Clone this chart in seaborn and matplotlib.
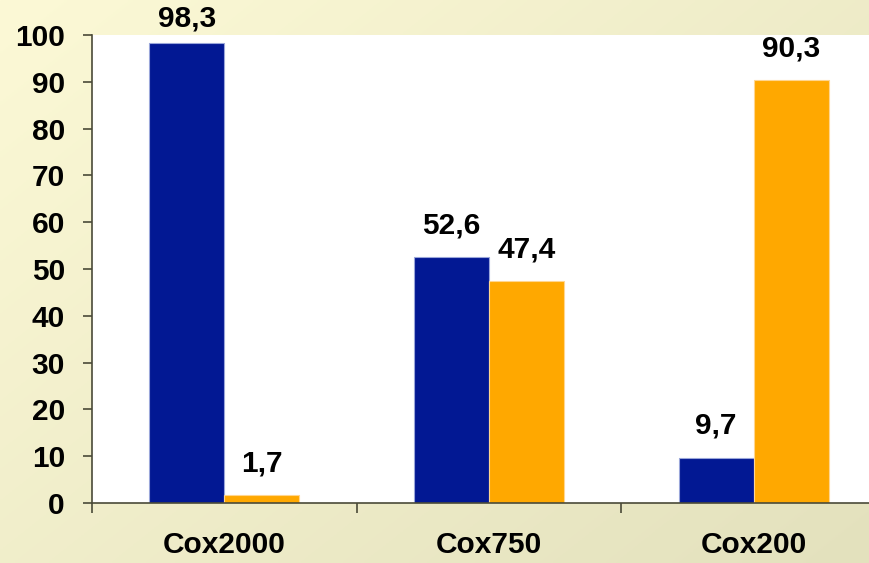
import numpy as np
import pandas as pd
import matplotlib
matplotlib.use("Agg")
import matplotlib.pyplot as plt
import matplotlib.colors as mcolors
import seaborn as sns

# Data
categories = ["Cox2000", "Cox750", "Cox200"]
series_names = ["A", "B"]
series_a = [98.3, 52.6, 9.7]
series_b = [1.7, 47.4, 90.3]
yticks = list(range(0, 101, 10))

df = pd.DataFrame({
    "cat": categories * 2,
    "series": [series_names[0]] * 3 + [series_names[1]] * 3,
    "value": series_a + series_b,
})

sns.set_theme(style="white")
plt.rcParams["font.family"] = ["Liberation Sans", "DejaVu Sans"]
plt.rcParams["font.weight"] = "bold"

FS = 21.5
W, H = 870, 563
fig = plt.figure(figsize=(W / 100, H / 100), dpi=100)

# Soft diagonal gradient backdrop
bg = fig.add_axes([0, 0, 1, 1], zorder=-10)
yy, xx = np.mgrid[0:1:200j, 0:1:300j]
t = (xx * 0.55 + yy * 0.45)
c0 = np.array(mcolors.to_rgb("#FCF9D6"))
c1 = np.array(mcolors.to_rgb("#E3E1BD"))
img = c0[None, None, :] * (1 - t[..., None]) + c1[None, None, :] * t[..., None]
bg.imshow(img, aspect="auto", extent=[0, 1, 0, 1], origin="upper")
bg.axis("off")

ax = fig.add_axes([92 / W, 60 / H, 794 / W, 468 / H])
ax.set_facecolor("white")

palette = {"A": "#021893", "B": "#FFA800"}
sns.barplot(data=df, x="cat", y="value", hue="series", palette=palette,
            width=150 / 265, gap=0, dodge=True, saturation=1,
            legend=False, ax=ax, order=categories, hue_order=series_names)

edge = {"A": "#9AA6DA", "B": "#FFD690"}
for cont, name in zip(ax.containers, series_names):
    for bar in cont:
        bar.set_edgecolor(edge[name])
        bar.set_linewidth(0.8)
    for bar, v in zip(cont, cont.datavalues):
        x = bar.get_x() + bar.get_width() / 2
        y = min(v + 3.8, 100.6)
        ax.text(x, y, f"{v:.1f}".replace(".", ","), ha="center", va="bottom",
                fontsize=FS, fontweight="bold", color="black", clip_on=False)

ax.set_xlim(-0.5, 2.5)
ax.set_ylim(0, 100)
ax.set_yticks(yticks)
ax.set_yticklabels([str(v) for v in yticks])
ax.set_xlabel("")
ax.set_ylabel("")

# Category labels on major ticks, boundary marks on minor ticks
ax.set_xticks(range(len(categories)))
ax.set_xticklabels(categories)
ax.set_xticks([-0.5, 0.5, 1.5, 2.5], minor=True)
ax.tick_params(axis="x", which="major", length=0, pad=20, labelsize=FS)
ax.tick_params(axis="x", which="minor", length=7, width=1.2, color="#4A4A38",
               direction="out", bottom=True)
ax.tick_params(axis="y", which="major", length=6.5, width=1.2, color="#4A4A38",
               direction="out", left=True, pad=13, labelsize=FS)
for lab in ax.get_xticklabels() + ax.get_yticklabels():
    lab.set_fontweight("bold")
    lab.set_color("black")

for side in ["top", "right"]:
    ax.spines[side].set_visible(False)
for side in ["left", "bottom"]:
    ax.spines[side].set_color("#4A4A38")
    ax.spines[side].set_linewidth(1.2)

fig.savefig("out.png", dpi=100)
